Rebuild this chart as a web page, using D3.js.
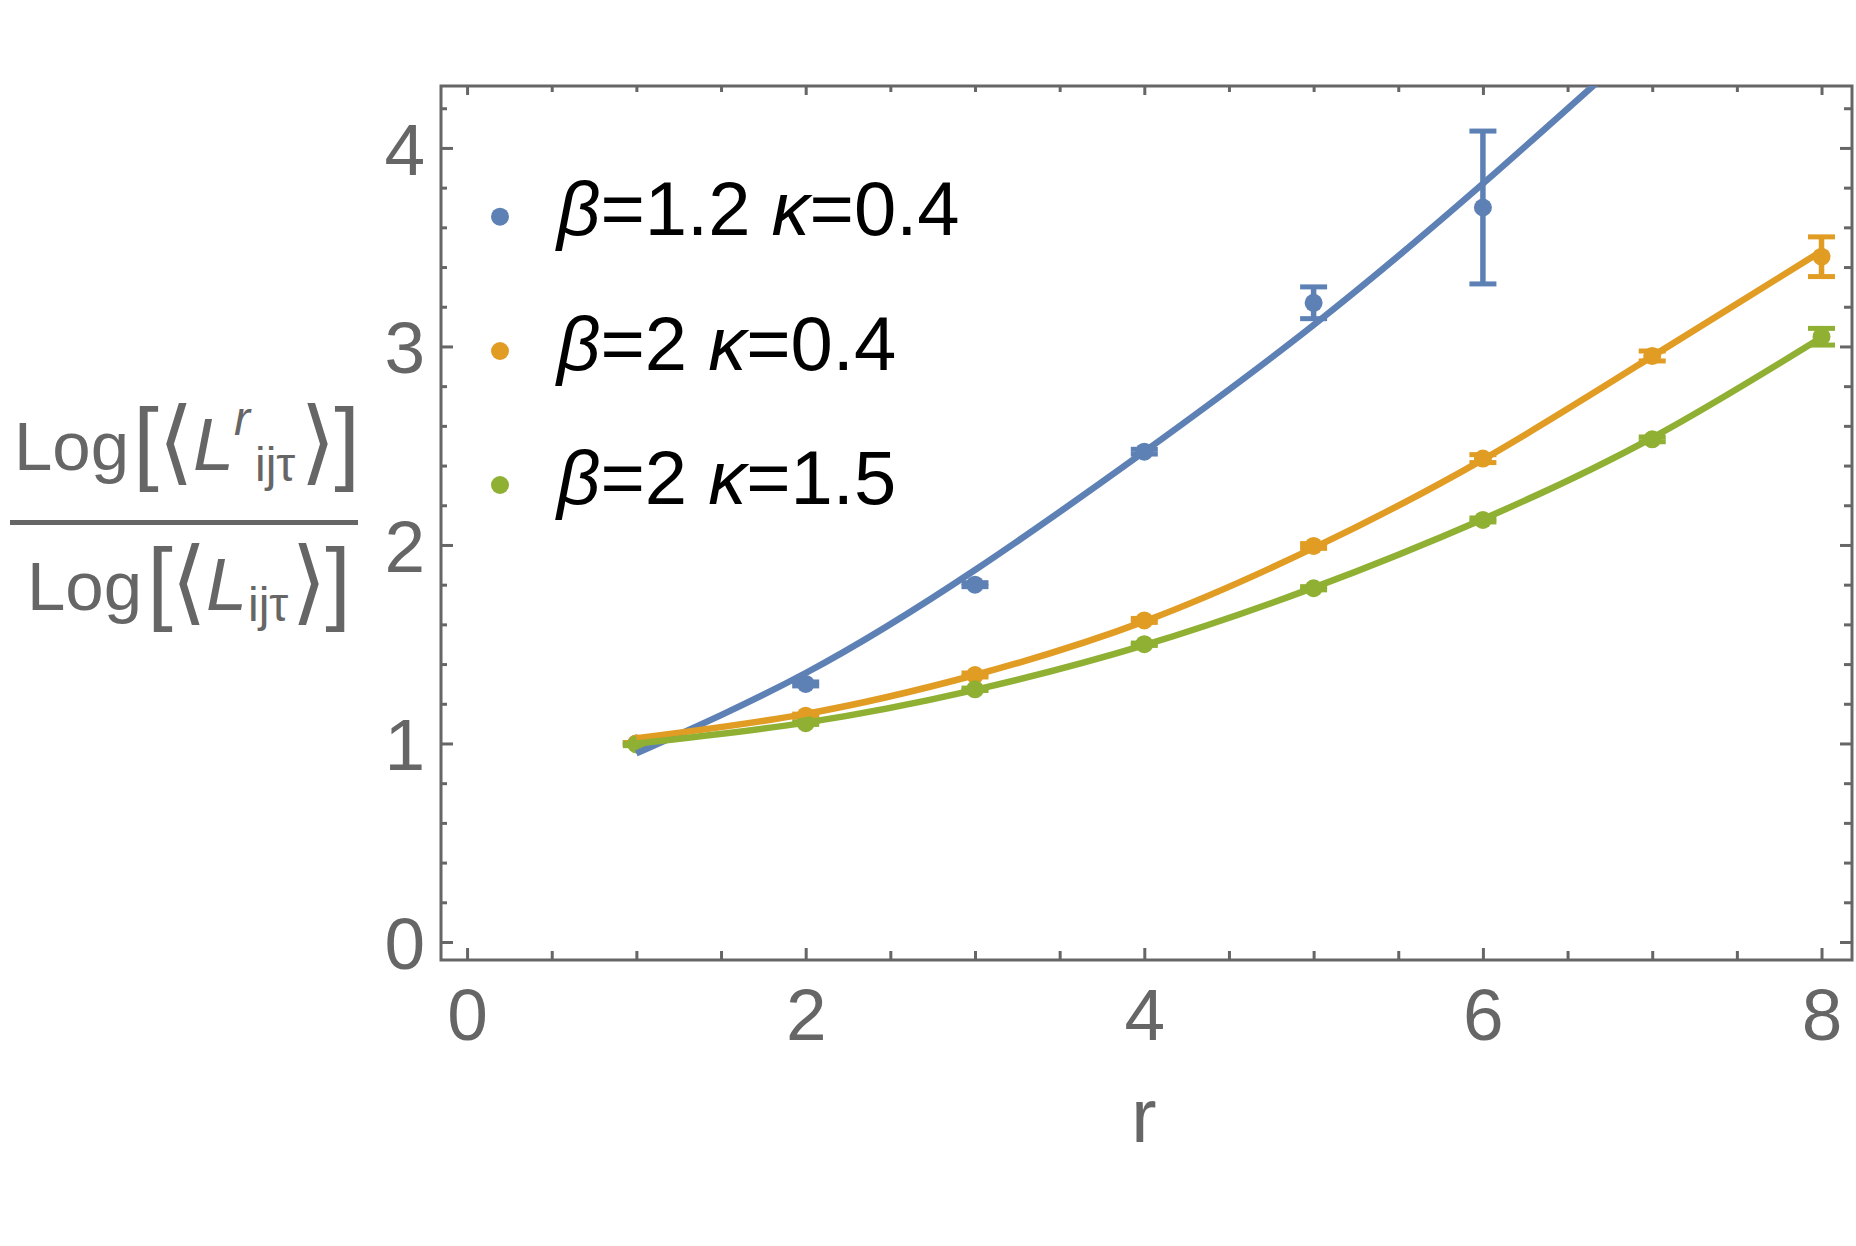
<!DOCTYPE html>
<html>
<head>
<meta charset="utf-8">
<script src="https://cdn.jsdelivr.net/npm/d3@7"></script>
<style>
  html, body { margin: 0; padding: 0; background: #fff; }
  svg { display: block; font-family: "Liberation Sans", Arial, sans-serif; }
</style>
</head>
<body>
<svg id="chart" width="1856" height="1246"></svg>
<script>
// ---------------- data ----------------
const seriesNames = ["β=1.2 κ=0.4", "β=2 κ=0.4", "β=2 κ=1.5"];
const seriesColors = ["#5E81B5", "#E19C24", "#8FB032"];

const blueR = [1, 2, 3, 4, 5, 6];
const blueVals = [1.0, 1.30, 1.80, 2.47, 3.22, 3.70];
const blueErr = [0.005, 0.01, 0.01, 0.012, 0.08, 0.385];

const orangeR = [1, 2, 3, 4, 5, 6, 7, 8];
const orangeVals = [1.0, 1.14, 1.345, 1.62, 1.995, 2.435, 2.952, 3.452];
const orangeErr = [0.005, 0.008, 0.01, 0.01, 0.012, 0.02, 0.025, 0.10];

const greenR = [1, 2, 3, 4, 5, 6, 7, 8];
const greenVals = [0.995, 1.102, 1.273, 1.50, 1.782, 2.126, 2.532, 3.049];
const greenErr = [0.006, 0.006, 0.006, 0.006, 0.008, 0.01, 0.012, 0.042];

// fitted curves
const blueFitR = [1, 2, 3, 4, 5, 6, 7];
const blueFitVals = [0.95, 1.355, 1.874, 2.47, 3.108, 3.82, 4.58];
const orangeFitR = [1, 2, 3, 4, 5, 6, 7, 8];
const orangeFitVals = [1.026, 1.149, 1.345, 1.615, 1.985, 2.43, 2.95, 3.48];
const greenFitR = [1, 2, 3, 4, 5, 6, 7, 8];
const greenFitVals = [1.0, 1.105, 1.27, 1.495, 1.785, 2.13, 2.54, 3.045];

const xMajorTicks = [0, 2, 4, 6, 8];
const xMinorTicks = [0.5, 1, 1.5, 2.5, 3, 3.5, 4.5, 5, 5.5, 6.5, 7, 7.5];
const yMajorTicks = [0, 1, 2, 3, 4];
const yMinorTicks = [0.2, 0.4, 0.6, 0.8, 1.2, 1.4, 1.6, 1.8, 2.2, 2.4, 2.6, 2.8, 3.2, 3.4, 3.6, 3.8, 4.2];
const xLabel = "r";

// ---------------- layout ----------------
const svg = d3.select("#chart");
const L = 441, R = 1852, T = 86, B = 960;
const x = d3.scaleLinear().domain([-0.154, 8.18]).range([L, R]);
const y = d3.scaleLinear().domain([-0.0907, 4.312]).range([B, T]);
const axisColor = "#666666";

svg.append("defs").append("clipPath").attr("id", "plotclip")
  .append("rect").attr("x", L).attr("y", T).attr("width", R - L).attr("height", B - T);

function styleAxis(g) {
  g.select(".domain").remove();
  g.selectAll("line").attr("stroke", axisColor).attr("stroke-width", 3);
  g.selectAll("text").attr("fill", axisColor);
}
// bottom
svg.append("g").attr("transform", `translate(0,${B})`)
  .call(d3.axisBottom(x).tickValues(xMajorTicks).tickSize(-12).tickPadding(0).tickFormat(d3.format("d")))
  .call(styleAxis)
  .call(g => g.selectAll("text").attr("font-size", 73).attr("dy", null).attr("y", 80));
svg.append("g").attr("transform", `translate(0,${B})`)
  .call(d3.axisBottom(x).tickValues(xMinorTicks).tickSize(-9).tickFormat(""))
  .call(styleAxis);
// top
svg.append("g").attr("transform", `translate(0,${T})`)
  .call(d3.axisTop(x).tickValues(xMajorTicks).tickSize(-9).tickFormat(""))
  .call(styleAxis);
svg.append("g").attr("transform", `translate(0,${T})`)
  .call(d3.axisTop(x).tickValues(xMinorTicks).tickSize(-6).tickFormat(""))
  .call(styleAxis);
// left
svg.append("g").attr("transform", `translate(${L},0)`)
  .call(d3.axisLeft(y).tickValues(yMajorTicks).tickSize(-12).tickPadding(0).tickFormat(d3.format("d")))
  .call(styleAxis)
  .call(g => g.selectAll("text").attr("font-size", 73).attr("x", -16).attr("dy", "0.36em"));
svg.append("g").attr("transform", `translate(${L},0)`)
  .call(d3.axisLeft(y).tickValues(yMinorTicks).tickSize(-6).tickFormat(""))
  .call(styleAxis);
// right
svg.append("g").attr("transform", `translate(${R},0)`)
  .call(d3.axisRight(y).tickValues(yMajorTicks).tickSize(-12).tickFormat(""))
  .call(styleAxis);
svg.append("g").attr("transform", `translate(${R},0)`)
  .call(d3.axisRight(y).tickValues(yMinorTicks).tickSize(-8).tickFormat(""))
  .call(styleAxis);

// frame
svg.append("rect").attr("x", L).attr("y", T).attr("width", R - L).attr("height", B - T)
  .attr("fill", "none").attr("stroke", axisColor).attr("stroke-width", 3);

// ---------------- data marks ----------------
const plot = svg.append("g").attr("clip-path", "url(#plotclip)");

const series = [
  { r: blueR, v: blueVals, e: blueErr, fr: blueFitR, fv: blueFitVals, c: seriesColors[0] },
  { r: orangeR, v: orangeVals, e: orangeErr, fr: orangeFitR, fv: orangeFitVals, c: seriesColors[1] },
  { r: greenR, v: greenVals, e: greenErr, fr: greenFitR, fv: greenFitVals, c: seriesColors[2] }
];

const capW = 13.5;
series.forEach(s => {
  const pts = s.r.map((r, i) => ({ r, v: s.v[i], e: s.e[i] }));
  const g = plot.append("g");
  g.selectAll("line.bar").data(pts).join("line")
    .attr("x1", d => x(d.r)).attr("x2", d => x(d.r))
    .attr("y1", d => y(d.v - d.e)).attr("y2", d => y(d.v + d.e))
    .attr("stroke", s.c).attr("stroke-width", 5.5);
  g.selectAll("line.capt").data(pts).join("line")
    .attr("x1", d => x(d.r) - capW).attr("x2", d => x(d.r) + capW)
    .attr("y1", d => y(d.v + d.e)).attr("y2", d => y(d.v + d.e))
    .attr("stroke", s.c).attr("stroke-width", 5);
  g.selectAll("line.capb").data(pts).join("line")
    .attr("x1", d => x(d.r) - capW).attr("x2", d => x(d.r) + capW)
    .attr("y1", d => y(d.v - d.e)).attr("y2", d => y(d.v - d.e))
    .attr("stroke", s.c).attr("stroke-width", 5);
  g.selectAll("circle").data(pts).join("circle")
    .attr("cx", d => x(d.r)).attr("cy", d => y(d.v)).attr("r", 9)
    .attr("fill", s.c);
});

const line = d3.line().x(d => x(d[0])).y(d => y(d[1])).curve(d3.curveNatural);
series.forEach(s => {
  plot.append("path")
    .datum(s.fr.map((r, i) => [r, s.fv[i]]))
    .attr("d", line)
    .attr("fill", "none").attr("stroke", s.c).attr("stroke-width", 6.5)
    .attr("stroke-linecap", "butt");
});

// ---------------- legend ----------------
const legendY = [216.7, 351, 485];
const legend = svg.append("g");
seriesNames.forEach((name, i) => {
  legend.append("circle").attr("cx", 500).attr("cy", legendY[i]).attr("r", 9).attr("fill", seriesColors[i]);
  const t = legend.append("text").attr("x", 557).attr("y", legendY[i] + 18.5)
    .attr("font-size", 76).attr("fill", "#000");
  const parts = name.split(" ");
  parts.forEach((p, j) => {
    if (j > 0) t.append("tspan").text("\u00a0");
    t.append("tspan").attr("font-style", "italic").text(p[0]);
    t.append("tspan").text(p.slice(1));
  });
});

// ---------------- axis labels ----------------
svg.append("text").attr("x", 1144).attr("y", 1142).attr("text-anchor", "middle")
  .attr("font-size", 76).attr("fill", axisColor).text(xLabel);

// y label as a stacked fraction; each line is one text element of tspans
const yl = svg.append("g").attr("fill", axisColor);
function fractionLine(pieces) {
  const t = yl.append("text");
  pieces.forEach(p => {
    const s = t.append("tspan").attr("x", p.x).attr("y", p.y).attr("font-size", p.size)
      .attr("text-anchor", p.anchor || "start").text(p.t);
    if (p.italic) s.attr("font-style", "italic");
    if (p.family) s.attr("font-family", p.family);
  });
}
fractionLine([
  { t: "Log", x: 14, y: 470, size: 69 },
  { t: "[", x: 146, y: 473, size: 92, anchor: "middle" },
  { t: "⟨", x: 176, y: 473, size: 92, anchor: "middle", family: "DejaVu Sans" },
  { t: "L", x: 193, y: 470, size: 74, italic: true },
  { t: "r", x: 234, y: 435, size: 48, italic: true },
  { t: "ijτ", x: 255, y: 481, size: 48 },
  { t: "⟩", x: 318, y: 473, size: 92, anchor: "middle", family: "DejaVu Sans" },
  { t: "]", x: 347, y: 473, size: 92, anchor: "middle" }
]);
yl.append("rect").attr("x", 10).attr("y", 520).attr("width", 348).attr("height", 5);
fractionLine([
  { t: "Log", x: 27, y: 610, size: 69 },
  { t: "[", x: 160, y: 613, size: 92, anchor: "middle" },
  { t: "⟨", x: 189, y: 613, size: 92, anchor: "middle", family: "DejaVu Sans" },
  { t: "L", x: 206, y: 610, size: 74, italic: true },
  { t: "ijτ", x: 248, y: 621, size: 48 },
  { t: "⟩", x: 309, y: 613, size: 92, anchor: "middle", family: "DejaVu Sans" },
  { t: "]", x: 338, y: 613, size: 92, anchor: "middle" }
]);
</script>
</body>
</html>
